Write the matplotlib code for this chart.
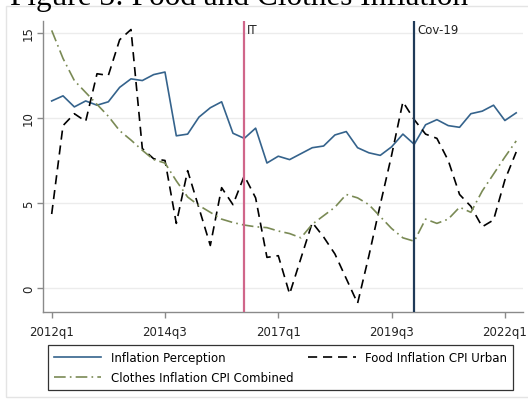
import matplotlib.pyplot as plt
from matplotlib.patches import Rectangle
import matplotlib.transforms as mtransforms

# quarterly series, 2012q1 .. 2022q2
perception = [11.0, 11.3, 10.65, 11.0, 10.75, 10.95, 11.8, 12.3, 12.2, 12.55,
              12.7, 8.95, 9.05, 10.05, 10.6, 10.95, 9.1, 8.8, 9.4, 7.35,
              7.75, 7.55, 7.9, 8.25, 8.35, 9.0, 9.2, 8.25, 7.95, 7.8,
              8.3, 9.05, 8.45, 9.6, 9.9, 9.55, 9.45, 10.25, 10.4, 10.75,
              9.85, 10.3]
food = [4.35, 9.55, 10.25, 9.8, 12.6, 12.5, 14.6, 15.2, 8.2, 7.6,
        7.5, 3.8, 6.9, 4.7, 2.5, 5.9, 4.9, 6.6, 5.3, 1.8,
        1.9, -0.35, 1.75, 3.85, 3.0, 2.0, 0.55, -0.9, 1.9, 4.9,
        7.8, 10.95, 9.9, 9.05, 8.8, 7.5, 5.5, 4.8, 3.6, 4.0,
        6.35, 8.0]
clothes = [15.15, 13.5, 12.2, 11.5, 10.8, 10.1, 9.25, 8.7, 8.1, 7.55,
           7.35, 6.3, 5.35, 4.85, 4.45, 4.05, 3.85, 3.7, 3.6, 3.55,
           3.35, 3.2, 2.95, 3.75, 4.25, 4.75, 5.5, 5.3, 4.9, 4.2,
           3.5, 2.95, 2.75, 4.05, 3.8, 4.05, 4.75, 4.45, 5.7, 6.7,
           7.7, 8.65]
quarters = list(range(len(perception)))

tick_pos = [0, 10, 20, 30, 40]
tick_labels = ["2012q1", "2014q3", "2017q1", "2019q3", "2022q1"]
y_ticks = [0, 5, 10, 15]

events = [17, 32]
event_labels = ["IT", "Cov-19"]
event_colors = ["#d0668a", "#1f3a58"]

W, H = 528, 402
fig = plt.figure(figsize=(W / 100, H / 100), dpi=100)
fig.patch.set_facecolor("white")

# light frame around the graph region
fig.patches.append(Rectangle((5.7 / W, 1 - 398 / H), 1.05, (398 - 7.3) / H,
                             transform=fig.transFigure, fill=False,
                             edgecolor="#e4e4e4", lw=1.0))

fig.text(10 / W, 1 - 5 / H, "Figure 3: Food and Clothes Inflation",
         family="Liberation Serif", fontsize=22.5, va="baseline", ha="left",
         color="black")

ax = fig.add_axes([43.3 / W, 1 - 313.3 / H, (523 - 43.3) / W, (313.3 - 21.7) / H])
ax.set_xlim(-0.74, 41.6)
ax.set_ylim(-1.43, 15.72)

for y in y_ticks:
    ax.axhline(y, color="#ececec", lw=1.0, zorder=0)

l1, = ax.plot(quarters, perception, color="#35638c", lw=1.2, label="Inflation Perception")
l2, = ax.plot(quarters, food, color="black", lw=1.2, linestyle=(0, (5.5, 3.5)),
              label="Food Inflation CPI Urban")
l3, = ax.plot(quarters, clothes, color="#7a8a55", lw=1.2, linestyle=(0, (7, 2.5, 1, 2.5)),
              label="Clothes Inflation CPI Combined")

trans = mtransforms.blended_transform_factory(ax.transData, ax.transAxes)
for q, lab, c in zip(events, event_labels, event_colors):
    ax.axvline(q, color=c, lw=1.6, zorder=3)
    ax.annotate(lab, xy=(q, 1.0), xycoords=trans, xytext=(2, -1.5),
                textcoords="offset points", ha="left", va="top",
                fontsize=8.5, color="#222222")

for side in ["top", "right"]:
    ax.spines[side].set_visible(False)
for side in ["left", "bottom"]:
    ax.spines[side].set_color("#8a8a8a")
    ax.spines[side].set_linewidth(1.0)

ax.set_xticks(tick_pos)
ax.set_xticklabels(tick_labels)
ax.set_yticks(y_ticks)
ax.set_yticklabels([str(v) for v in y_ticks], rotation=90, va="center")
ax.tick_params(axis="both", colors="#8a8a8a", labelcolor="#222222",
               labelsize=8.5, length=4, width=1.0)
ax.tick_params(axis="x", pad=5)
ax.tick_params(axis="y", pad=2)

fig.legend(handles=[l1, l3, l2], ncol=2, loc="lower left",
           bbox_to_anchor=(48.3 / W, 1 - 390.7 / H, (513 - 48.3) / W, 45 / H),
           bbox_transform=fig.transFigure, mode="expand", borderaxespad=0,
           fontsize=8.5, handlelength=4.0, handletextpad=0.8,
           labelspacing=0.6, borderpad=0.5, fancybox=False,
           edgecolor="#333333", framealpha=1.0)
fig.legends[0].get_frame().set_linewidth(0.9)

fig.savefig("out.png", dpi=100)
